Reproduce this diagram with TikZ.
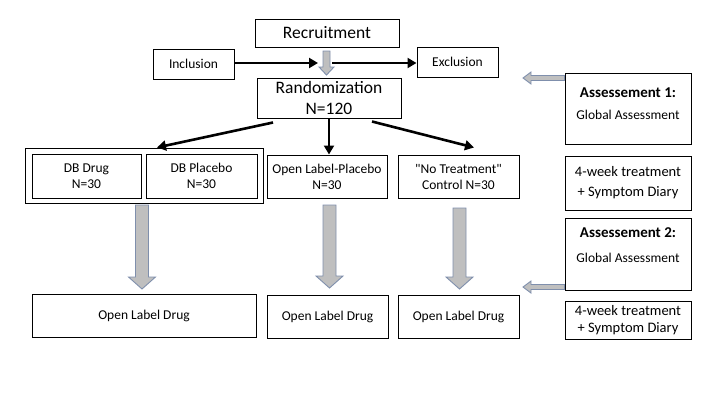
\documentclass[tikz,border=0pt]{standalone}
\usepackage{fontspec}
\setmainfont{Carlito}
\usepackage{xcolor}
\usepackage{tikz}
\usetikzlibrary{arrows.meta}

\definecolor{arrowgray}{RGB}{191,191,191}
\definecolor{arrowline}{RGB}{127,143,172}

\begin{document}
\begin{tikzpicture}[x=1pt,y=-1pt,
  every node/.style={draw, line width=1pt, align=center, inner sep=2pt, font=\fontsize{13.5}{16}\selectfont},
  bigtext/.style={font=\fontsize{17.5}{21}\selectfont},
  weektext/.style={font=\fontsize{14.5}{17.5}\selectfont},
  flow/.style={line width=2.6pt, -{Triangle[length=9pt,width=10pt]}},
  blockarrow/.style={draw=arrowline, fill=arrowgray, line width=0.9pt}]
\useasboundingbox (0,0) rectangle (720,405);
% Boxes
\node[bigtext, minimum width=144pt, minimum height=28pt] (recruit) at (327,33) {Recruitment};
\node[minimum width=81pt, minimum height=30pt] (incl) at (193.5,64) {Inclusion};
\node[minimum width=81pt, minimum height=30pt] (excl) at (457.5,62) {Exclusion};
\node[bigtext, minimum width=144pt, minimum height=40pt] (rand) at (329,98) {Randomization\\N=120};
\node[minimum width=238pt, minimum height=55pt] (grp) at (144,175.5) {};
\node[minimum width=109pt, minimum height=44pt] (dbdrug) at (86.5,176) {DB Drug\\N=30};
\node[minimum width=111pt, minimum height=44pt] (dbplac) at (201.5,176) {DB Placebo\\N=30};
\node[minimum width=120pt, minimum height=43pt] (olplac) at (327,176.5) {Open Label-Placebo\\N=30};
\node[minimum width=121pt, minimum height=43pt] (notreat) at (458.5,176.5) {\textquotedbl No Treatment\textquotedbl\\Control N=30};
\node[minimum width=224pt, minimum height=43pt] (old1) at (144,315.5) {Open Label Drug};
\node[minimum width=121pt, minimum height=43pt] (old2) at (327.5,316.5) {Open Label Drug};
\node[minimum width=121pt, minimum height=43pt] (old3) at (458.5,316.5) {Open Label Drug};
% Right panel
\node[minimum width=126pt, minimum height=71pt] (as1) at (628,108.5) {};
\node[draw=none] (as1txt) at (628,104) {\textbf{\fontsize{15}{16}\selectfont Assessement 1:}\\[6pt]Global Assessment};
\node[weektext, minimum width=126pt, minimum height=54pt] (week1) at (628,183) {4-week treatment\\[2.5pt]+ Symptom Diary};
\node[minimum width=126pt, minimum height=72pt] (as2) at (628,254) {};
\node[draw=none] (as2txt) at (628,245) {\textbf{\fontsize{15}{16}\selectfont Assessement 2:}\\[9pt]Global Assessment};
\node[weektext, minimum width=126pt, minimum height=38pt] (week2) at (628,320) {4-week treatment\\+ Symptom Diary};
% Arrows
\coordinate (jl) at (318,63);
\coordinate (jr) at (332,63);
\draw[flow] (incl.east |- jl) -- (jl);
\draw[flow] (jr) -- (excl.west |- jr);
\draw[flow] ([xshift=-56pt,yshift=-4pt]rand.south) -- ([xshift=13pt]grp.north);
\draw[flow] (rand.south) -- (rand.south |- olplac.north);
\draw[flow] ([xshift=43pt,yshift=-3pt]rand.south) -- ([xshift=15.5pt,yshift=7pt]notreat.north);
% Gray block arrows
\draw[blockarrow] (323,51) -- (330,51) -- (330,67) -- (334,67) -- (326.5,75) -- (319,67) -- (323,67) -- cycle;
\foreach \cx/\ytop/\ytip in {142/205/289, 329.5/205/288, 459.5/208/289}
  \draw[blockarrow] (\cx-6.5,\ytop) -- (\cx+6.5,\ytop) -- (\cx+6.5,\ytip-12) -- (\cx+13.5,\ytip-12)
    -- (\cx,\ytip) -- (\cx-13.5,\ytip-12) -- (\cx-6.5,\ytip-12) -- cycle;
\foreach \ya in {78, 287}
  \draw[blockarrow] (564.5,\ya-2.5) -- (531,\ya-2.5) -- (531,\ya-6) -- (523,\ya) -- (531,\ya+6)
    -- (531,\ya+2.5) -- (564.5,\ya+2.5) -- cycle;
\end{tikzpicture}
\end{document}
